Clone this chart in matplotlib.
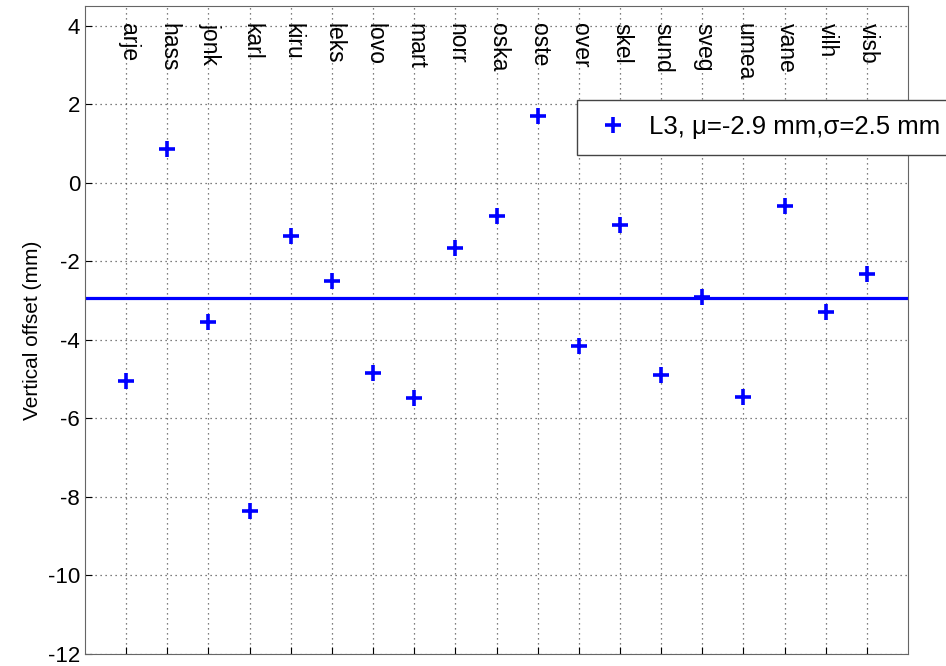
import numpy as np
import matplotlib.pyplot as plt

plt.rcParams['font.family'] = ['Liberation Sans', 'DejaVu Sans']
plt.rcParams['axes.unicode_minus'] = False

stations = ['arje', 'hass', 'jonk', 'karl', 'kiru', 'leks', 'lovo', 'mart', 'norr', 'oska',
            'oste', 'over', 'skel', 'sund', 'sveg', 'umea', 'vane', 'vilh', 'visb']
offset = [-5.05, 0.85, -3.55, -8.35, -1.35, -2.5, -4.85, -5.48, -1.67, -0.84,
          1.7, -4.16, -1.07, -4.9, -2.92, -5.45, -0.6, -3.28, -2.32]
mean_offset = -2.9
std_offset = 2.5

fig = plt.figure(figsize=(9.46, 6.66), dpi=100)
ax = fig.add_axes([85/946, 1-654/666, (908-85)/946, (654-6)/666])

x = np.arange(1, len(stations) + 1)
ax.plot(x, offset, '+', color='#0000ff', markersize=12, markeredgewidth=2.6,
        label='L3, \u03bc=%.1f mm,\u03c3=%.1f mm' % (mean_offset, std_offset))
ax.axhline(np.mean(offset), color='#0000ff', linewidth=2.3)

# station names written down inside the top of the axes
for xi, name in zip(x, stations):
    ax.text(xi + 0.05, 4.07, name, rotation=-90, ha='center', va='top', fontsize=16.5)

ax.set_xlim(0, len(stations) + 1)
ax.set_ylim(-12, 4.5)
ax.set_xticks(x)
ax.set_xticklabels([])
ax.set_yticks(np.arange(-12, 5, 2))
ax.tick_params(direction='in', length=5, labelsize=16)
ax.grid(True, linestyle=(0, (1, 3)), color='#555555', linewidth=0.9)
for s in ax.spines.values():
    s.set_color('#666666')
ax.set_ylabel('Vertical offset (mm)', fontsize=15)

leg = ax.legend(loc='upper left', bbox_to_anchor=(577/946, 1-100/666),
                bbox_transform=fig.transFigure, borderaxespad=0, fontsize=18.5,
                fancybox=False, framealpha=1, handletextpad=0.6,
                borderpad=0.6, handlelength=1.6)
leg.get_frame().set_edgecolor('#444444')

fig.savefig('out.png', dpi=100)
